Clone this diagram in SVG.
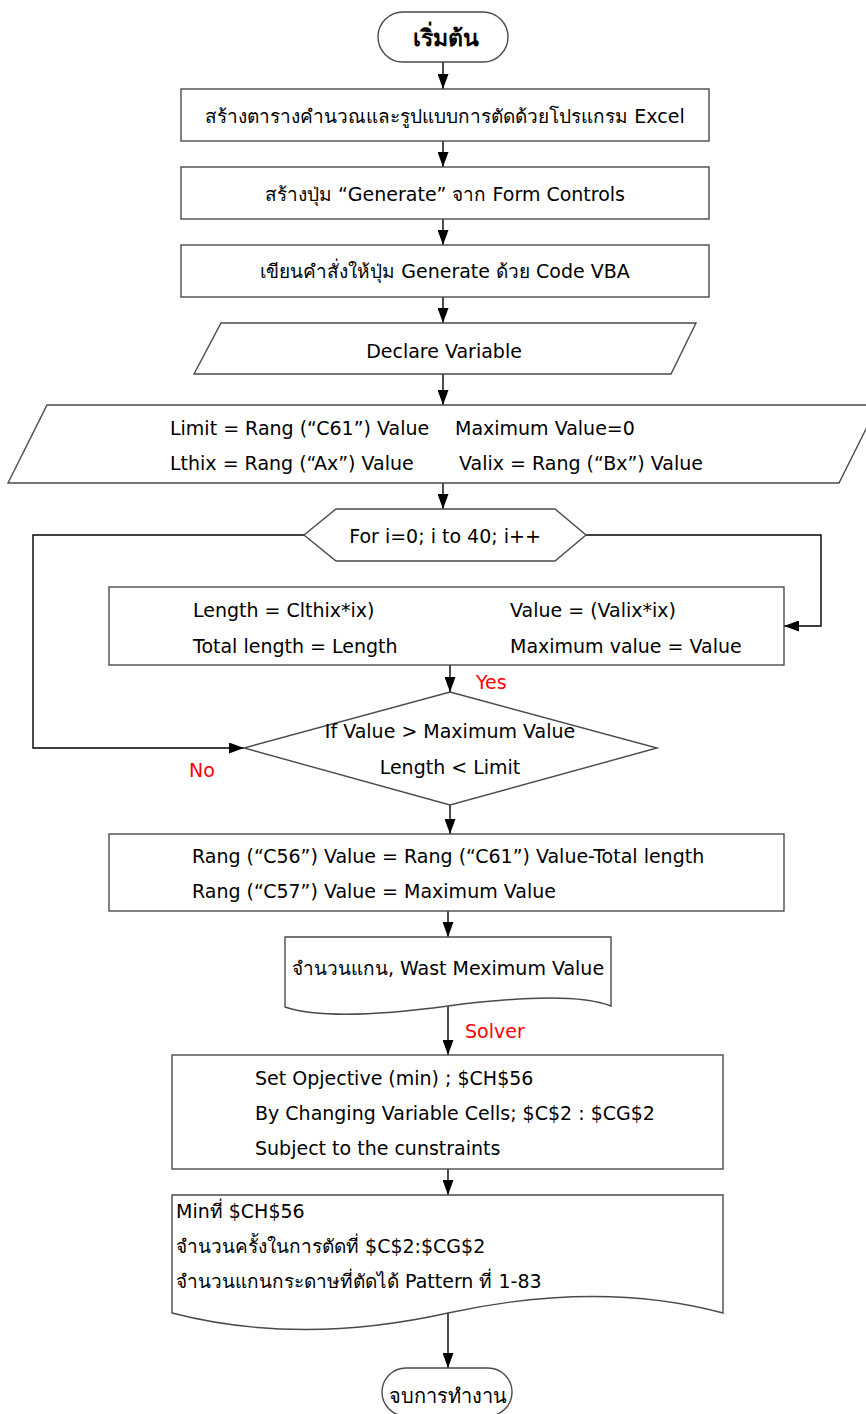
<svg xmlns="http://www.w3.org/2000/svg" width="866" height="1414" viewBox="0 0 866 1414">
<style>
.n{fill:#fff;stroke:#4a4a4a;stroke-width:1.4}
.c{fill:none;stroke:#000;stroke-width:1.4}
text{font-family:"DejaVu Sans","Noto Sans",sans-serif;font-size:19px;fill:#000}
.m{text-anchor:middle}
.r{fill:#ff0000}
.b{font-weight:bold;font-size:23px}
.e{font-size:20px}
</style>
<defs>
<marker id="ah" markerUnits="userSpaceOnUse" markerWidth="15" markerHeight="11" refX="15" refY="5.5" orient="auto">
<path d="M0,0 L15,5.5 L0,11 z" fill="#000"/>
</marker>
</defs>
<rect width="866" height="1414" fill="#fff"/>
<g id="connectors">
<path class="c" d="M443,62 V89" marker-end="url(#ah)"/>
<path class="c" d="M443,141 V167" marker-end="url(#ah)"/>
<path class="c" d="M443,219 V245" marker-end="url(#ah)"/>
<path class="c" d="M443,297 V323" marker-end="url(#ah)"/>
<path class="c" d="M443,374 V405" marker-end="url(#ah)"/>
<path class="c" d="M443,483 V509" marker-end="url(#ah)"/>
<path class="c" d="M586,535 H821 V626 H784" marker-end="url(#ah)"/>
<path class="c" d="M304,535 H33 V748 H244" marker-end="url(#ah)"/>
<path class="c" d="M450,665 V692" marker-end="url(#ah)"/>
<path class="c" d="M450,805 V834" marker-end="url(#ah)"/>
<path class="c" d="M448,911 V937" marker-end="url(#ah)"/>
<path class="c" d="M448,1006 V1055" marker-end="url(#ah)"/>
<path class="c" d="M448,1169 V1195" marker-end="url(#ah)"/>
<path class="c" d="M448,1313 V1368" marker-end="url(#ah)"/>
<text class="r" x="476" y="689">Yes</text>
<text class="r" x="189" y="777">No</text>
<text class="r" x="465" y="1038">Solver</text>
</g>
<g id="start">
<rect class="n" x="378" y="12" width="130" height="50" rx="25" ry="25"/>
<text class="m b" x="446" y="46">เริ่มต้น</text>
</g>
<g id="step1">
<rect class="n" x="181" y="89" width="528" height="52"/>
<text class="m" x="445" y="123">สร้างตารางคำนวณและรูปแบบการตัดด้วยโปรแกรม Excel</text>
</g>
<g id="step2">
<rect class="n" x="181" y="167" width="528" height="52"/>
<text class="m" x="445" y="201">สร้างปุ่ม “Generate” จาก Form Controls</text>
</g>
<g id="step3">
<rect class="n" x="181" y="245" width="528" height="52"/>
<text class="m" x="445" y="278">เขียนคำสั่งให้ปุ่ม Generate ด้วย Code VBA</text>
</g>
<g id="declare">
<polygon class="n" points="221,323 696,323 671,374 194,374"/>
<text class="m" x="444" y="358">Declare Variable</text>
</g>
<g id="vars">
<polygon class="n" points="47,405 878,405 839,483 8,483"/>
<text x="170" y="435">Limit = Rang (“C61”) Value</text>
<text x="455" y="435">Maximum Value=0</text>
<text x="170" y="470">Lthix = Rang (“Ax”) Value</text>
<text x="459" y="470">Valix = Rang (“Bx”) Value</text>
</g>
<g id="loop">
<polygon class="n" points="304,535 336,509 555,509 586,535 555,561 336,561"/>
<text class="m" x="445" y="543">For i=0; i to 40; i++</text>
</g>
<g id="calc">
<rect class="n" x="109" y="587" width="675" height="78"/>
<text x="193" y="617">Length = Clthix*ix)</text>
<text x="510" y="617">Value = (Valix*ix)</text>
<text x="193" y="653">Total length = Length</text>
<text x="510" y="653">Maximum value = Value</text>
</g>
<g id="decision">
<polygon class="n" points="450,692 657,748 450,805 244,748"/>
<text class="m" x="450" y="738">If Value &gt; Maximum Value</text>
<text class="m" x="450" y="774">Length &lt; Limit</text>
</g>
<g id="assign">
<rect class="n" x="109" y="834" width="675" height="77"/>
<text x="192" y="863">Rang (“C56”) Value = Rang (“C61”) Value-Total length</text>
<text x="192" y="898">Rang (“C57”) Value = Maximum Value</text>
</g>
<g id="doc1">
<path class="n" d="M285,937 H611 V1006 Q570,990 448,1006 Q330,1022 285,1007 Z"/>
<text class="m" x="448" y="975">จำนวนแกน, Wast Meximum Value</text>
</g>
<g id="solver">
<rect class="n" x="172" y="1055" width="551" height="114"/>
<text x="255" y="1085">Set Opjective (min) ; $CH$56</text>
<text x="255" y="1120">By Changing Variable Cells; $C$2 : $CG$2</text>
<text x="255" y="1155">Subject to the cunstraints</text>
</g>
<g id="doc2">
<path class="n" d="M172,1195 H723 V1313 Q600,1280 448,1313 Q300,1346 172,1313 Z"/>
<text x="176" y="1218">Minที่ $CH$56</text>
<text x="176" y="1253">จำนวนครั้งในการตัดที่ $C$2:$CG$2</text>
<text x="176" y="1288">จำนวนแกนกระดาษที่ตัดได้ Pattern ที่ 1-83</text>
</g>
<g id="end">
<rect class="n" x="382" y="1368" width="130" height="48" rx="24" ry="24"/>
<text class="m e" x="448" y="1403">จบการทำงาน</text>
</g>
</svg>
